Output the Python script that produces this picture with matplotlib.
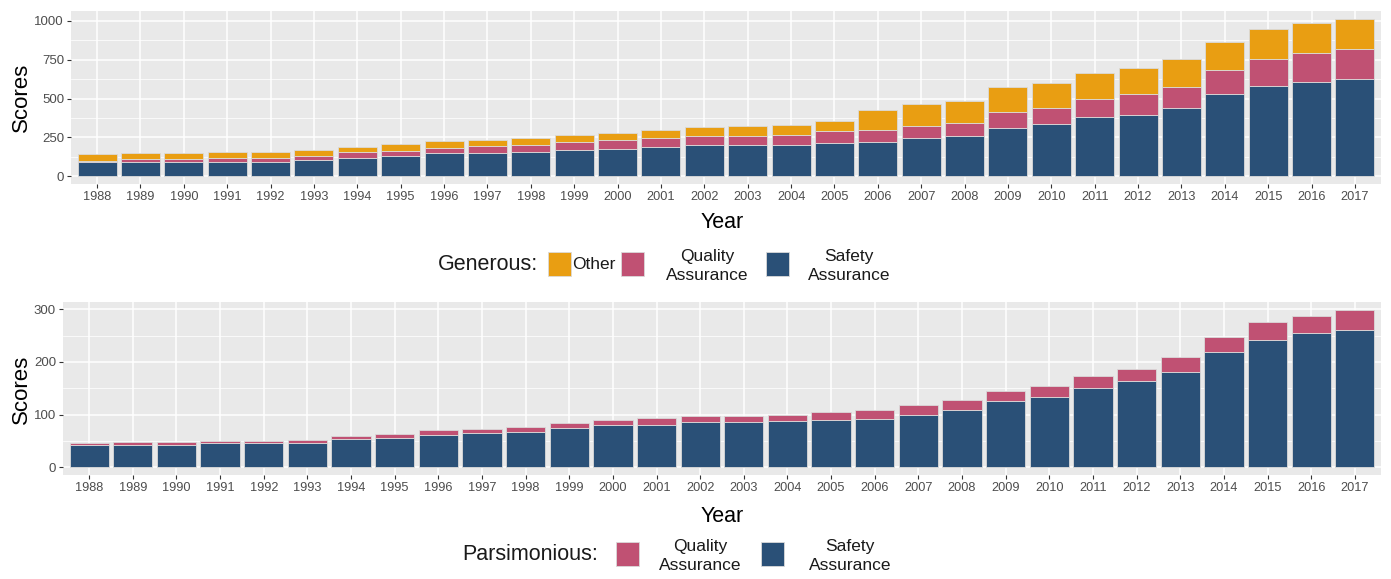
import matplotlib
matplotlib.use("Agg")
import matplotlib.pyplot as plt
from matplotlib.patches import Rectangle
import numpy as np

years = list(range(1988, 2018))

# Generous (top) — stacked: Safety, Quality, Other
gen_safety = [88, 88, 88, 94, 94, 103, 118, 130, 147, 147, 156, 169, 177, 186, 201,
              201, 201, 216, 222, 245, 259, 310, 333, 378, 397, 436, 526, 583, 607, 628]
gen_quality_top = [100, 111, 111, 115, 115, 132, 154, 160, 184, 192, 201, 220, 235, 244, 259,
                   259, 265, 288, 295, 323, 340, 412, 442, 496, 532, 575, 682, 754, 791, 821]
gen_total = [141, 147, 147, 154, 156, 167, 190, 205, 226, 235, 248, 265, 280, 295, 316,
             321, 329, 357, 425, 462, 487, 573, 603, 662, 699, 754, 861, 949, 985, 1013]
gen_quality = [q - s for q, s in zip(gen_quality_top, gen_safety)]
gen_other = [t - q for t, q in zip(gen_total, gen_quality_top)]

# Parsimonious (bottom) — stacked: Safety, Quality
par_safety = [42, 42, 42, 45, 45, 45, 54, 56, 62, 64, 67, 74, 80, 80, 85,
              85, 87, 89, 91, 100, 109, 126, 133, 150, 163, 181, 218, 242, 255, 261]
par_total = [45, 47, 47, 49, 49, 51, 60, 63, 71, 73, 77, 83, 90, 93, 97,
             97, 100, 105, 109, 119, 128, 145, 154, 174, 187, 209, 248, 275, 288, 299]
par_quality = [t - s for t, s in zip(par_total, par_safety)]

C_OTHER = "#E99E12"
C_QUAL = "#C05173"
C_SAFE = "#2A5077"
BG = "#E9E9E9"

plt.rcParams['font.family'] = ['Liberation Sans', 'DejaVu Sans']

W, H = 1391, 579
fig = plt.figure(figsize=(W / 100, H / 100), dpi=100)


def fx(px):
    return px / W


def fy(py):
    return 1 - py / H


def style_axes(ax, ymax_data, yticks, minor):
    n = len(years)
    ax.set_facecolor(BG)
    ax.set_xlim(-0.6, n - 1 + 0.6)
    ax.set_ylim(-0.05 * ymax_data, ymax_data * 1.05)
    ax.set_xticks(range(n))
    ax.set_xticklabels([str(y) for y in years])
    ax.set_yticks(yticks)
    ax.set_yticks(minor, minor=True)
    ax.tick_params(axis='x', labelsize=9.2, colors='#4D4D4D', length=3, width=0.8, pad=2)
    ax.tick_params(axis='y', labelsize=9.5, colors='#4D4D4D', length=3, width=0.8, pad=2)
    ax.tick_params(axis='both', which='both', color='#333333')
    ax.tick_params(axis='y', which='minor', length=0)
    for lab in ax.get_xticklabels() + ax.get_yticklabels():
        lab.set_color('#4D4D4D')
    for s in ax.spines.values():
        s.set_visible(False)
    ax.grid(True, which='major', color='white', linewidth=1.1)
    ax.grid(True, which='minor', axis='y', color='white', linewidth=0.55)
    ax.set_axisbelow(True)


x = np.arange(len(years))
bw = 0.9
ec = '#DADADA'

# Top panel
ax1 = fig.add_axes([fx(71), fy(184), fx(1381) - fx(71), fy(11) - fy(184)])
ax1.bar(x, gen_safety, width=bw, color=C_SAFE, edgecolor=ec, linewidth=0.6)
ax1.bar(x, gen_quality, width=bw, bottom=gen_safety, color=C_QUAL, edgecolor=ec, linewidth=0.6)
ax1.bar(x, gen_other, width=bw, bottom=gen_quality_top, color=C_OTHER, edgecolor=ec, linewidth=0.6)
style_axes(ax1, max(gen_total), [0, 250, 500, 750, 1000], [125, 375, 625, 875])

# Bottom panel
ax2 = fig.add_axes([fx(63), fy(475), fx(1381) - fx(63), fy(302) - fy(475)])
ax2.bar(x, par_safety, width=bw, color=C_SAFE, edgecolor=ec, linewidth=0.6)
ax2.bar(x, par_quality, width=bw, bottom=par_safety, color=C_QUAL, edgecolor=ec, linewidth=0.6)
style_axes(ax2, max(par_total), [0, 100, 200, 300], [50, 150, 250])

# Axis titles
fig.text(fx(21), fy(97), "Scores", rotation=90, ha='center', va='center', fontsize=16)
fig.text(fx(21), fy(389), "Scores", rotation=90, ha='center', va='center', fontsize=16)
fig.text(fx(722), fy(223), "Year", ha='center', va='center', fontsize=15.5)
fig.text(fx(722), fy(517), "Year", ha='center', va='center', fontsize=15.5)


def key(xl, yc, color):
    r = Rectangle((fx(xl), fy(yc + 12)), fx(23), 24 / H, transform=fig.transFigure,
                  facecolor=color, edgecolor='#DADADA', linewidth=0.6)
    fig.add_artist(r)


LS = 1.25

# Top legend
yc = 264
fig.text(fx(488), fy(yc), "Generous:", ha='center', va='center', fontsize=15.5, color='#1A1A1A')
key(548, yc, C_OTHER)
fig.text(fx(594), fy(yc), "Other", ha='center', va='center', fontsize=12.5, color='#1A1A1A')
key(621, yc, C_QUAL)
fig.text(fx(707), fy(yc + 2), "Quality\nAssurance", ha='center', va='center', fontsize=12.5,
         multialignment='center', color='#1A1A1A', linespacing=LS)
key(766, yc, C_SAFE)
fig.text(fx(849), fy(yc + 2), "Safety\nAssurance", ha='center', va='center', fontsize=12.5,
         multialignment='center', color='#1A1A1A', linespacing=LS)

# Bottom legend
yc = 554
fig.text(fx(530), fy(yc), "Parsimonious:", ha='center', va='center', fontsize=15.5, color='#1A1A1A')
key(616, yc, C_QUAL)
fig.text(fx(700), fy(yc + 2), "Quality\nAssurance", ha='center', va='center', fontsize=12.5,
         multialignment='center', color='#1A1A1A', linespacing=LS)
key(761, yc, C_SAFE)
fig.text(fx(850), fy(yc + 2), "Safety\nAssurance", ha='center', va='center', fontsize=12.5,
         multialignment='center', color='#1A1A1A', linespacing=LS)

fig.savefig("out.png", dpi=100, facecolor='white')
